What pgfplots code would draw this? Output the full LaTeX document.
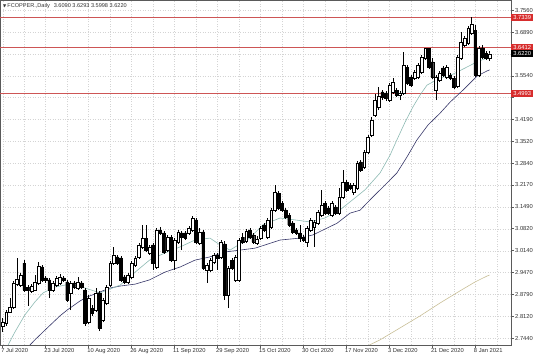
\documentclass[border=0pt]{standalone}
\usepackage{fontspec}
\setmainfont{Liberation Sans}
\newfontfamily\dejavu{DejaVu Sans}
\usepackage{pgfplots}
\usepackage{pgfplotstable}
\pgfplotsset{compat=1.18}
\definecolor{gridc}{RGB}{212,212,212}
\definecolor{framec}{RGB}{90,90,90}
\definecolor{labelc}{RGB}{50,50,50}
\definecolor{srline}{RGB}{205,85,85}
\definecolor{redbox}{RGB}{215,45,45}
\definecolor{maslow}{RGB}{55,55,105}
\definecolor{mafast}{RGB}{140,185,178}
\definecolor{maolive}{RGB}{200,190,150}

\pgfplotstableread{
i o h l c
0 2.782 2.807 2.763 2.794
1 2.791 2.831 2.782 2.825
2 2.825 2.868 2.822 2.840
3 2.840 2.921 2.834 2.915
4 2.911 2.992 2.905 2.927
5 2.908 2.945 2.902 2.939
6 2.976 2.985 2.887 2.893
7 2.902 2.908 2.844 2.893
8 2.890 2.911 2.884 2.905
9 2.893 2.939 2.890 2.918
10 2.915 2.979 2.908 2.967
11 2.964 2.970 2.918 2.924
12 2.930 2.936 2.915 2.924
13 2.924 2.930 2.868 2.893
14 2.893 2.921 2.887 2.915
15 2.908 2.936 2.902 2.930
16 2.915 2.942 2.908 2.933
17 2.930 2.936 2.918 2.924
18 2.918 2.924 2.856 2.862
19 2.884 2.921 2.831 2.915
20 2.915 2.921 2.896 2.902
21 2.899 2.933 2.893 2.918
22 2.915 2.921 2.896 2.902
23 2.893 2.899 2.782 2.791
24 2.794 2.877 2.788 2.868
25 2.837 2.847 2.813 2.822
26 2.831 2.899 2.825 2.884
27 2.884 2.890 2.766 2.776
28 2.800 2.868 2.794 2.862
29 2.853 2.908 2.847 2.902
30 2.908 2.982 2.902 2.976
31 2.976 3.026 2.970 3.001
32 2.995 3.001 2.970 2.976
33 2.992 2.998 2.918 2.924
34 2.933 2.939 2.911 2.918
35 2.918 2.945 2.911 2.939
36 2.933 2.982 2.927 2.976
37 2.970 2.998 2.964 2.992
38 2.995 3.038 2.989 3.032
39 3.026 3.094 3.019 3.053
40 3.053 3.094 3.010 3.016
41 3.007 3.032 3.001 3.026
42 3.032 3.038 2.955 2.976
43 2.964 3.084 2.958 3.078
44 3.078 3.087 3.063 3.069
45 3.069 3.075 3.004 3.010
46 3.016 3.063 3.010 3.056
47 3.056 3.063 2.979 2.985
48 2.985 3.053 2.955 3.047
49 3.041 3.078 3.035 3.072
50 3.069 3.075 3.016 3.056
51 3.069 3.075 3.047 3.053
52 3.069 3.090 3.063 3.084
53 3.078 3.121 3.072 3.115
54 3.109 3.115 3.035 3.041
55 3.038 3.084 3.032 3.072
56 3.072 3.078 2.955 2.961
57 2.955 2.976 2.915 2.970
58 2.955 2.992 2.948 2.985
59 2.979 3.007 2.973 3.001
60 3.001 3.007 2.955 2.992
61 2.995 3.047 2.989 3.041
62 3.035 3.044 2.862 2.877
63 2.877 2.967 2.837 2.961
64 2.985 2.992 2.955 2.961
65 2.924 3.001 2.918 2.995
66 2.924 3.053 2.918 3.047
67 3.056 3.069 3.035 3.041
68 3.044 3.081 3.038 3.075
69 3.078 3.084 3.050 3.056
70 3.063 3.069 3.035 3.041
71 3.038 3.060 3.032 3.050
72 3.053 3.090 3.047 3.084
73 3.094 3.100 3.072 3.078
74 3.056 3.115 3.050 3.109
75 3.087 3.146 3.081 3.140
76 3.140 3.217 3.134 3.195
77 3.192 3.198 3.140 3.146
78 3.161 3.168 3.134 3.140
79 3.140 3.146 3.112 3.118
80 3.124 3.131 3.087 3.094
81 3.100 3.106 3.066 3.072
82 3.078 3.084 3.063 3.069
83 3.069 3.094 3.041 3.053
84 3.056 3.063 3.041 3.047
85 3.041 3.090 3.026 3.084
86 3.078 3.115 3.072 3.109
87 3.087 3.109 3.026 3.103
88 3.100 3.140 3.094 3.134
89 3.124 3.202 3.118 3.155
90 3.161 3.168 3.124 3.131
91 3.146 3.152 3.124 3.131
92 3.124 3.168 3.118 3.161
93 3.149 3.155 3.124 3.131
94 3.131 3.208 3.124 3.180
95 3.180 3.263 3.174 3.226
96 3.226 3.232 3.195 3.202
97 3.217 3.223 3.202 3.208
98 3.195 3.223 3.186 3.217
99 3.208 3.291 3.202 3.285
100 3.288 3.294 3.257 3.263
101 3.272 3.325 3.266 3.319
102 3.319 3.371 3.313 3.365
103 3.371 3.427 3.365 3.418
104 3.433 3.498 3.427 3.479
105 3.458 3.519 3.448 3.492
106 3.504 3.510 3.479 3.489
107 3.501 3.507 3.476 3.485
108 3.479 3.532 3.473 3.526
109 3.504 3.547 3.498 3.535
110 3.510 3.516 3.489 3.495
111 3.495 3.507 3.479 3.501
112 3.501 3.627 3.495 3.587
113 3.581 3.587 3.526 3.532
114 3.550 3.556 3.519 3.526
115 3.547 3.572 3.541 3.566
116 3.550 3.593 3.544 3.587
117 3.566 3.618 3.559 3.612
118 3.609 3.641 3.603 3.638
119 3.638 3.641 3.575 3.581
120 3.597 3.609 3.544 3.550
121 3.510 3.556 3.479 3.550
122 3.541 3.569 3.535 3.562
123 3.578 3.584 3.550 3.556
124 3.550 3.587 3.544 3.581
125 3.556 3.562 3.541 3.547
126 3.547 3.553 3.513 3.519
127 3.522 3.618 3.516 3.612
128 3.609 3.689 3.603 3.658
129 3.649 3.677 3.643 3.671
130 3.655 3.708 3.649 3.701
131 3.686 3.734 3.680 3.714
132 3.695 3.711 3.550 3.556
133 3.556 3.646 3.550 3.640
134 3.640 3.649 3.606 3.612
135 3.624 3.630 3.603 3.609
136 3.609 3.6293 3.5998 3.622
}\candles

\pgfplotsset{common/.style={width=511bp, height=345bp, scale only axis,
  at={(0,0)}, anchor=south west,
  xmin=-0.754, xmax=141.98, ymin=2.7231, ymax=3.7878, enlargelimits=false}}

\begin{document}
\begin{tikzpicture}
\begin{axis}[common,
  axis line style={draw=framec, line width=0.6bp},
  xtick={0,12,...,132},
  xticklabels={7 Jul 2020,23 Jul 2020,10 Aug 2020,26 Aug 2020,11 Sep 2020,29 Sep 2020,15 Oct 2020,30 Oct 2020,17 Nov 2020,3 Dec 2020,21 Dec 2020,8 Jan 2021},
  minor xtick={6,18,...,138},
  xmajorgrids, xminorgrids, ymajorgrids,
  grid style={gridc, dash pattern=on 1bp off 1.5bp, line width=0.35bp},
  minor grid style={gridc, dash pattern=on 1bp off 1.5bp, line width=0.35bp},
  ytick={2.744,2.812,2.879,2.947,3.014,3.082,3.149,3.217,3.284,3.352,3.419,3.487,3.554,3.622,3.689,3.756},
  yticklabels={2.7440,2.8120,2.8790,2.9470,3.0140,3.0820,3.1490,3.2170,3.2840,3.3520,3.4190,{},3.5540,{},3.6890,3.7560},
  extra y ticks={3.7339,3.6412,3.4993},
  extra y tick labels={},
  extra y tick style={major tick length=0pt, ymajorgrids=true,
    major grid style={draw=srline, solid, line width=0.9bp}},
  xtick pos=left, ytick pos=right, yticklabel pos=right,
  tick align=outside, major tick length=2.5bp, minor tick length=0pt,
  tick style={framec, line width=0.5bp},
  tick label style={font=\fontsize{5.8}{6}\selectfont, text=labelc},
  xticklabel style={anchor=north west, xshift=-2.5bp, inner sep=1bp},
  yticklabel style={anchor=west, inner sep=1.5bp},
]
% moving averages
\addplot[maolive, line width=0.6bp] coordinates {(95,2.680) (98.5,2.702) (105.4,2.739) (111,2.776) (116.6,2.813) (122.2,2.853) (127.7,2.890) (132,2.918) (135.3,2.936) (136,2.939)};
\addplot[maslow, line width=0.6bp] coordinates {(5,2.700) (7.6,2.723) (9,2.739) (11.8,2.769) (16,2.813) (18,2.831) (21.6,2.859) (23.5,2.871) (27.2,2.887) (30,2.899) (32.8,2.905) (37,2.911) (41,2.924) (45.3,2.948) (49.6,2.964) (53.7,2.985) (57.9,2.995) (62,3.010) (66.3,3.016) (70.5,3.022) (73.3,3.032) (77.5,3.047) (83,3.053) (86.7,3.063) (93.4,3.099) (97,3.130) (99.8,3.139) (103.4,3.180) (106.8,3.217) (110.1,3.254) (112.9,3.303) (115.7,3.356) (118.8,3.402) (122.2,3.439) (125,3.473) (128.6,3.510) (132.5,3.553) (135.3,3.569) (136,3.572)};
\addplot[mafast, line width=0.6bp] coordinates {(0,2.690) (1.5,2.723) (3.4,2.763) (6.2,2.816) (9,2.856) (11.3,2.884) (14.6,2.902) (18.8,2.911) (23,2.899) (27.2,2.884) (30,2.896) (32.8,2.908) (37,2.948) (41,2.985) (45.3,3.007) (49.6,3.026) (53.7,3.047) (57.9,3.053) (60.7,3.032) (63.5,3.016) (66.3,3.035) (69,3.053) (72.7,3.094) (77.5,3.115) (81.7,3.109) (85.8,3.103) (90,3.115) (94.2,3.140) (98.4,3.177) (101.2,3.202) (105.4,3.254) (108.2,3.309) (110.1,3.356) (112.4,3.411) (114.6,3.458) (116.6,3.495) (118.5,3.525) (122.2,3.547) (125.8,3.559) (129.7,3.581) (132.5,3.597) (135.3,3.609) (136,3.612)};
% wicks
\addplot[draw=none, mark=none, error bars/.cd, y dir=plus, y explicit, error mark=none,
  error bar style={draw=black, solid, line width=0.45bp}]
  table[x=i, y=l, y error expr=\thisrow{h}-\thisrow{l}] {\candles};
\end{axis}

\begin{axis}[common, hide axis, ybar stacked, bar width=2.8bp, clip mode=individual]
\addplot[draw=none, fill=none] table[x=i, y expr={min(\thisrow{o},\thisrow{c})}] {\candles};
\addplot[draw=black, fill=white, line width=0.4bp] table[x=i, y expr={max(\thisrow{c}-\thisrow{o},0)}] {\candles};
\addplot[draw=black, fill=black, line width=0.4bp] table[x=i, y expr={max(\thisrow{o}-\thisrow{c},0)}] {\candles};
\end{axis}

\begin{axis}[common, hide axis, clip mode=individual]
\tikzset{pricebox/.style={anchor=west, text=white, inner sep=0.6bp, minimum width=22bp, minimum height=7bp, font=\fontsize{5.8}{6}\selectfont}}
\node[pricebox, fill=redbox] at ({rel axis cs:1,0}|-{axis cs:0,3.7339}) {3.7339};
\node[pricebox, fill=redbox] at ({rel axis cs:1,0}|-{axis cs:0,3.6412}) {3.6412};
\node[pricebox, fill=black] at ({rel axis cs:1,0}|-{axis cs:0,3.6220}) {3.6220};
\node[pricebox, fill=redbox] at ({rel axis cs:1,0}|-{axis cs:0,3.4993}) {3.4993};
\node[anchor=north west, inner sep=0pt, xshift=3bp, yshift=-3bp, text=labelc, font=\fontsize{5.6}{6}\selectfont]
  at (rel axis cs:0,1) {{\dejavu\fontsize{4.2}{5}\selectfont ▼}\,FCOPPER.,Daily\hspace{4bp}3.6090 3.6293 3.5998 3.6220};
\end{axis}
\pgfresetboundingbox
\path[use as bounding box] (0,-12bp) rectangle (536bp,345bp);
\end{tikzpicture}
\end{document}
